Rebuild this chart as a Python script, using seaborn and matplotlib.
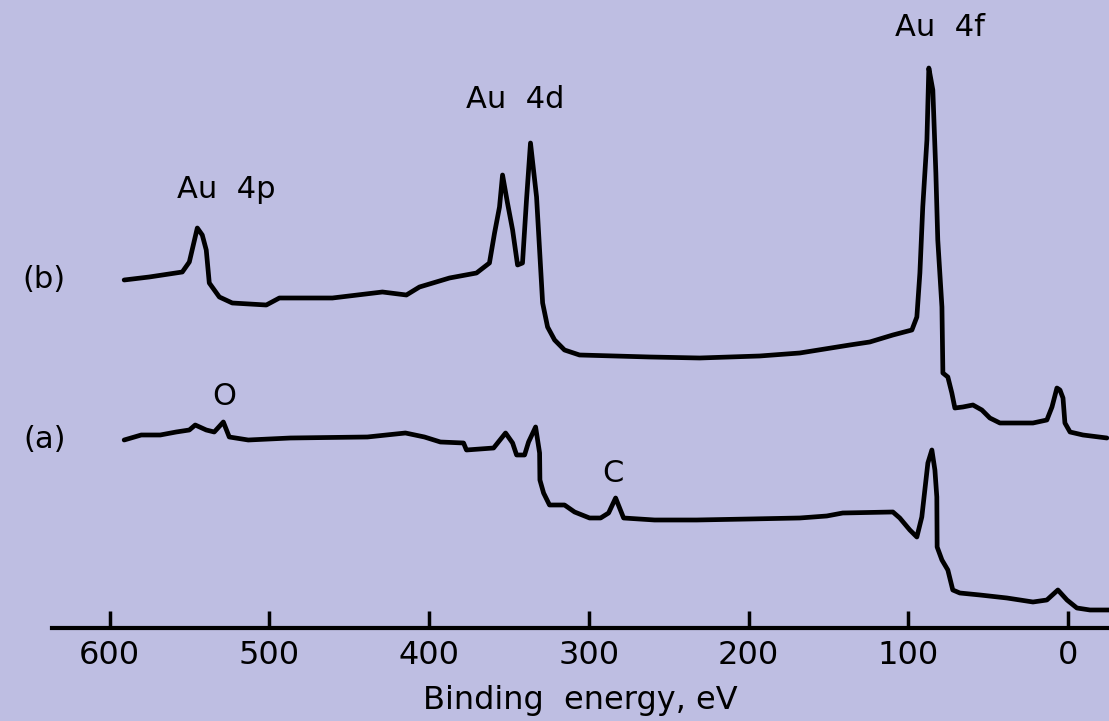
import numpy as np
import matplotlib
matplotlib.use('Agg')
import matplotlib.pyplot as plt
import pandas as pd
import seaborn as sns

# XPS survey spectra (binding energy in eV, intensity in arbitrary units)
energy_b = [590.9, 575.2, 554.5, 550.1, 545.1, 542.0, 539.5, 537.6, 531.3, 523.2,
            501.9, 493.7, 460.5, 429.2, 414.2, 406.0, 387.2, 370.3, 362.2, 359.0,
            355.9, 354.0, 350.9, 347.7, 344.6, 341.5, 339.0, 336.5, 332.7, 330.8,
            328.9, 325.8, 321.4, 315.2, 305.8, 261.9, 230.6, 193.0, 167.9, 136.6,
            124.1, 109.6, 97.7, 94.6, 92.7, 90.9, 88.3, 87.1, 84.6, 82.7,
            81.5, 78.9, 78.3, 75.2, 72.7, 70.8, 65.8, 59.5, 53.9, 48.9,
            42.6, 21.9, 13.2, 10.0, 6.9, 5.0, 3.1, 1.9, -1.3, -9.4, -24.4]
signal_b = [348, 351, 356, 366, 400, 393, 378, 345, 331, 325,
            323, 330, 330, 336, 333, 341, 350, 355, 365, 395,
            421, 453, 425, 398, 363, 365, 428, 485, 431, 378,
            325, 301, 288, 278, 273, 271, 270, 272, 275, 283,
            286, 293, 298, 311, 355, 421, 488, 560, 538, 455,
            388, 321, 255, 251, 235, 220, 221, 223, 218, 210,
            205, 205, 208, 221, 240, 238, 230, 205, 196, 193, 190]

energy_a = [590.9, 580.2, 568.3, 558.3, 550.1, 546.4, 539.5, 534.5, 528.8, 525.1,
            513.2, 486.8, 438.6, 414.8, 402.9, 392.9, 378.4, 376.6, 359.6, 352.1,
            347.7, 345.2, 340.2, 337.7, 333.3, 330.8, 330.6, 328.3, 324.6, 315.2,
            308.9, 299.5, 292.6, 287.6, 283.2, 280.7, 278.2, 258.8, 232.5, 199.2,
            167.9, 151.0, 141.0, 109.6, 105.3, 99.0, 94.6, 91.5, 89.6, 87.7,
            85.2, 83.3, 82.1, 81.9, 78.9, 75.2, 72.1, 67.7, 55.1, 38.2,
            21.9, 13.2, 6.3, 0.6, -5.6, -13.8, -25.7]
signal_a = [188, 193, 193, 196, 198, 203, 198, 196, 206, 191,
            188, 190, 191, 195, 191, 186, 185, 178, 180, 195,
            185, 173, 173, 186, 201, 175, 148, 135, 123, 123,
            116, 110, 110, 115, 130, 120, 110, 108, 108, 109,
            110, 112, 115, 116, 110, 98, 91, 111, 138, 165,
            178, 158, 131, 81, 68, 58, 38, 35, 33, 30,
            26, 28, 38, 28, 20, 18, 18]

tick_values = [600, 500, 400, 300, 200, 100, 0]

bg = '#BEBEE2'
sns.set_style('white')
plt.rcParams['font.family'] = ['DejaVu Sans']

fig = plt.figure(figsize=(11.09, 7.21), dpi=100, facecolor=bg)
ax = fig.add_axes([0.047, 0.129, 0.953, 0.871])
ax.set_facecolor(bg)

df_b = pd.DataFrame({'energy': energy_b, 'signal': signal_b})
df_a = pd.DataFrame({'energy': energy_a, 'signal': signal_a})
sns.lineplot(data=df_b, x='energy', y='signal', sort=False, estimator=None,
             color='black', lw=3.4, ax=ax)
sns.lineplot(data=df_a, x='energy', y='signal', sort=False, estimator=None,
             color='black', lw=3.4, ax=ax)

ax.set_xlim(636, -25.7)
ax.set_ylim(0, 628)

for s in ['top', 'left', 'right']:
    ax.spines[s].set_visible(False)
ax.spines['bottom'].set_linewidth(3)
ax.spines['bottom'].set_color('black')
ax.set_yticks([])
ax.set_ylabel('')
ax.set_xticks(tick_values)
ax.set_xticklabels([str(v) for v in tick_values])
ax.tick_params(axis='x', bottom=True, direction='in', length=12, width=2.5,
               color='black', labelcolor='black', labelsize=23, pad=9)
ax.set_xlabel('Binding  energy, eV', fontsize=23, color='black', labelpad=10)

txt = dict(fontsize=22, ha='center', va='center', color='black')
ax.text(80, 600, 'Au  4f', **txt)
ax.text(346, 528, 'Au  4d', **txt)
ax.text(527, 438, 'Au  4p', **txt)
ax.text(641, 348, '(b)', **txt)
ax.text(641, 188, '(a)', **txt)
ax.text(528, 231, 'O', **txt)
ax.text(285, 154, 'C', **txt)

fig.savefig('out.png', dpi=100, facecolor=bg)
